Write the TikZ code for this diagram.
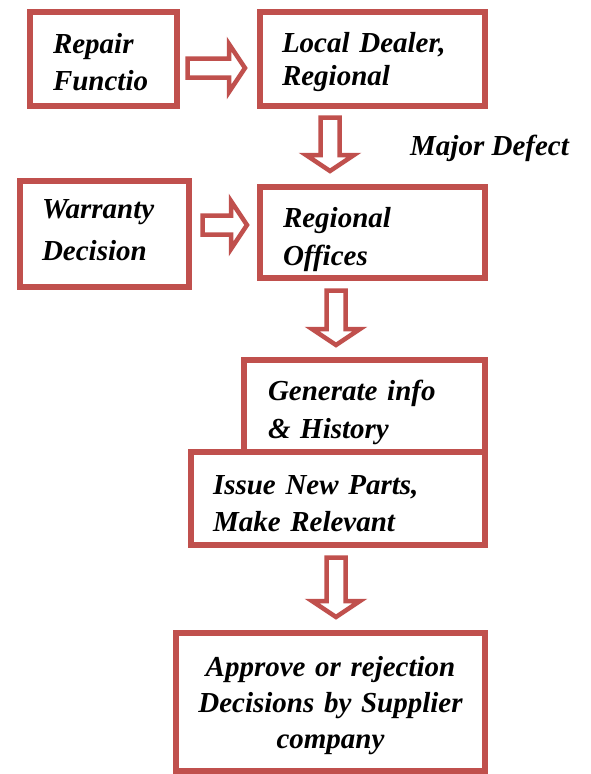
\documentclass[tikz,border=0pt]{standalone}
\usepackage{fontspec}
\setmainfont{Liberation Serif}
\usetikzlibrary{calc}
\definecolor{boxred}{RGB}{192,80,77}
\newcommand{\arrshaft}{9.5}
\newcommand{\arrwing}{24}
\newcommand{\arrhead}{16}
\tikzset{
  stepbox/.style={draw=boxred, line width=6pt, fill=white, inner sep=0pt, align=left},
  lines/.style={font=\bfseries\itshape\fontsize{29}{#1}\selectfont},
  drop/.style={execute at begin node={\rule{0pt}{#1}}},
  lift/.style={execute at end node={\rule[-#1]{0pt}{0pt}}},
  blockarrow/.style={draw=boxred, line width=4.5pt, fill=white, line join=miter},
  downarrow/.style={blockarrow, to path={
    ($(\tikztostart)+(-\arrshaft,0)$) -- ($(\tikztotarget)+(-\arrshaft,-\arrhead)$)
    -- ($(\tikztotarget)+(-\arrwing,-\arrhead)$) -- (\tikztotarget)
    -- ($(\tikztotarget)+(\arrwing,-\arrhead)$) -- ($(\tikztotarget)+(\arrshaft,-\arrhead)$)
    -- ($(\tikztostart)+(\arrshaft,0)$) -- cycle}},
  rightarrow/.style={blockarrow, to path={
    ($(\tikztostart)+(0,-\arrshaft)$) -- ($(\tikztotarget)+(-\arrhead,-\arrshaft)$)
    -- ($(\tikztotarget)+(-\arrhead,-\arrwing)$) -- (\tikztotarget)
    -- ($(\tikztotarget)+(-\arrhead,\arrwing)$) -- ($(\tikztotarget)+(-\arrhead,\arrshaft)$)
    -- ($(\tikztostart)+(0,\arrshaft)$) -- cycle}}
}
\begin{document}
\begin{tikzpicture}[x=1pt, y=-1pt]
\useasboundingbox (0,0) rectangle (590,774);
% boxes
\node [stepbox, lines=37, drop=26pt, minimum width=147pt, minimum height=94pt, text width=101pt] (repair) at (103.5,59) {Repair\\Functio};
\node [stepbox, lines=33, drop=26pt, minimum width=225pt, minimum height=94pt, text width=181pt] (dealer) at (372.5,59) {Local Dealer,\\Regional};
\node [stepbox, lines=42, lift=8pt, minimum width=169pt, minimum height=106pt, text width=125pt] (warranty) at (104.5,234) {Warranty\\Decision};
\node [stepbox, lines=38, drop=34pt, minimum width=225pt, minimum height=91pt, text width=179pt] (regional) at (372.5,232.5) {Regional\\Offices};
\node [stepbox, lines=38, drop=34pt, minimum width=241pt, minimum height=92pt, text width=193pt] (history) at (364.5,406) {Generate info\\\& History};
\node [stepbox, lines=37, drop=30pt, minimum width=294pt, minimum height=93pt, text width=250pt] (parts) at (338,498.5) {Issue New Parts,\\Make Relevant};
\node [stepbox, lines=36, drop=28pt, minimum width=309pt, minimum height=138pt, text width=300pt, align=center] (supplier) at (330.5,702) {Approve or rejection\\Decisions by Supplier\\company};
\node [lines=37, inner sep=0pt, anchor=base west] (defect) at (410,155) {Major Defect};

% arrow ends
\coordinate (repair-out) at (187.5,68);
\coordinate (dealer-in) at (245,68);
\coordinate (dealer-out) at (330,117.5);
\coordinate (regional-top) at (330,171);
\coordinate (warranty-out) at (202.5,225);
\coordinate (regional-in) at (247,225);
\coordinate (regional-out) at (336,290.5);
\coordinate (history-in) at (336,345);
\coordinate (parts-out) at (336,557.5);
\coordinate (supplier-in) at (336,617);

% block arrows
\draw [rightarrow] (repair-out) to (dealer-in);
\draw [downarrow] (dealer-out) to (regional-top);
\draw [rightarrow] (warranty-out) to (regional-in);
\draw [downarrow] (regional-out) to (history-in);
\draw [downarrow] (parts-out) to (supplier-in);
\end{tikzpicture}
\end{document}
